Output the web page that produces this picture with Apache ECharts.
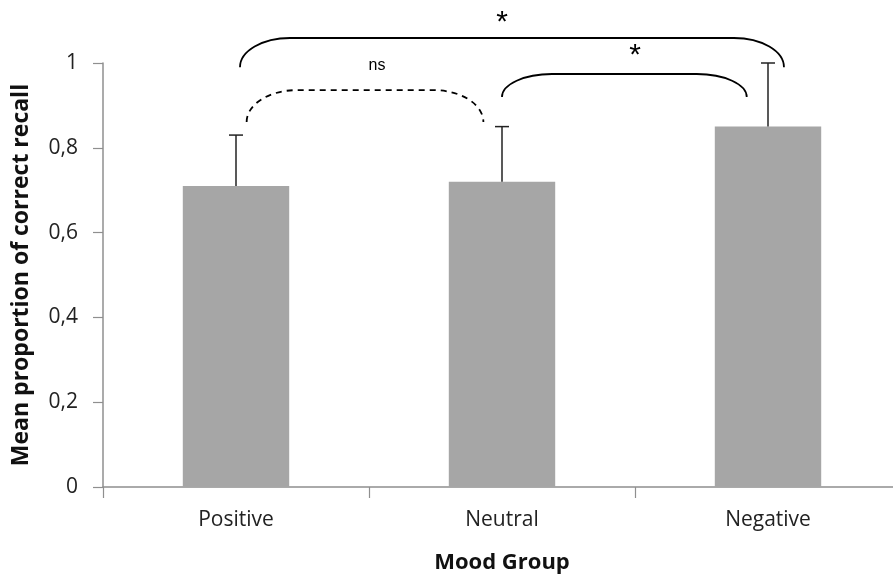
<!DOCTYPE html>
<html>
<head>
<meta charset="utf-8">
<script src="https://cdn.jsdelivr.net/npm/echarts@6/dist/echarts.min.js"></script>
<style>
html,body{margin:0;padding:0;background:#fff;}
#chart{width:893px;height:576px;}
</style>
</head>
<body>
<div id="chart"></div>
<script>
// ---- data ----
var categories = ['Positive', 'Neutral', 'Negative'];
var meanValues = [0.71, 0.72, 0.85];
var errorValues = [0.12, 0.13, 0.15];
var yTickLabels = ['0', '0,2', '0,4', '0,6', '0,8', '1'];
// significance brackets (in category / value units)
var bracketFrom = [0.015, 0.04, 1.0];
var bracketTo = [2.06, 0.93, 1.92];
var bracketEnd = [0.99, 0.861, 0.92];
var bracketTop = [1.059, 0.936, 0.974];
var bracketLabel = ['*', 'ns', '*'];
var bracketLabelX = [1.0, 0.53, 1.5];
var bracketLabelY = [1.114, 0.993, 1.036];
var bracketDashed = [false, true, false];

var chart = echarts.init(document.getElementById('chart'));

function catX(api, c) {
  var i = Math.floor(c);
  if (i > categories.length - 1) i = categories.length - 1;
  var base = api.coord([i, 0])[0];
  var band = api.size([1, 0])[0];
  return base + (c - i) * band;
}

var errData = categories.map(function (c, i) { return [i, meanValues[i], meanValues[i] + errorValues[i]]; });
var bracketData = bracketLabel.map(function (l, i) { return [i]; });

var option = {
  backgroundColor: '#ffffff',
  animation: false,
  grid: { left: 103, top: 63, right: -8, bottom: 89, containLabel: false, outerBoundsMode: 'none' },
  xAxis: {
    type: 'category',
    data: categories,
    name: 'Mood Group',
    nameLocation: 'middle',
    nameGap: 65,
    nameTextStyle: { fontFamily: 'Open Sans', fontWeight: 'bold', fontSize: 22, color: '#111' },
    axisLine: { show: true, lineStyle: { color: '#8f8f8f', width: 1.5 } },
    axisTick: { show: true, alignWithLabel: false, length: 11, lineStyle: { color: '#8f8f8f', width: 1.2 } },
    axisLabel: { margin: 23, fontFamily: 'Open Sans', fontSize: 21, color: '#222' },
    splitLine: { show: false }
  },
  yAxis: {
    type: 'value',
    min: 0, max: 1, interval: 0.2,
    name: 'Mean proportion of correct recall',
    nameLocation: 'middle',
    nameGap: 70,
    nameTextStyle: { fontFamily: 'Open Sans', fontWeight: 'bold', fontSize: 23, color: '#111' },
    axisLine: { show: true, lineStyle: { color: '#8f8f8f', width: 1.5 } },
    axisTick: { show: true, length: 10, lineStyle: { color: '#8f8f8f', width: 1.2 } },
    axisLabel: {
      margin: 25, fontFamily: 'Open Sans', fontSize: 21, color: '#222',
      formatter: function (v) { return yTickLabels[Math.round(v / 0.2)]; }
    },
    splitLine: { show: false }
  },
  series: [
    {
      type: 'bar',
      data: meanValues,
      barWidth: '40%',
      itemStyle: { color: '#a6a6a6' },
      z: 2
    },
    {
      type: 'custom',
      data: errData,
      z: 3,
      renderItem: function (params, api) {
        var x = api.coord([api.value(0), api.value(1)])[0];
        var y0 = api.coord([api.value(0), api.value(1)])[1];
        var y1 = api.coord([api.value(0), api.value(2)])[1];
        var style = { stroke: '#222', lineWidth: 1.5, fill: null };
        return {
          type: 'group',
          children: [
            { type: 'line', shape: { x1: x, y1: y0, x2: x, y2: y1 }, style: style },
            { type: 'line', shape: { x1: x - 7, y1: y1, x2: x + 7, y2: y1 }, style: style }
          ]
        };
      }
    },
    {
      type: 'custom',
      data: bracketData,
      z: 4,
      clip: false,
      renderItem: function (params, api) {
        var k = api.value(0);
        var xa = catX(api, bracketFrom[k]);
        var xb = catX(api, bracketTo[k]);
        var ye = api.coord([0, bracketEnd[k]])[1];
        var yt = api.coord([0, bracketTop[k]])[1];
        var ry = ye - yt;
        var rx = Math.min(50, (xb - xa) / 4);
        var c = 0.5523;
        var d = 'M' + xa + ',' + ye +
          ' C' + xa + ',' + (ye - c * ry) + ' ' + (xa + rx - c * rx) + ',' + yt + ' ' + (xa + rx) + ',' + yt +
          ' L' + (xb - rx) + ',' + yt +
          ' C' + (xb - rx + c * rx) + ',' + yt + ' ' + xb + ',' + (ye - c * ry) + ' ' + xb + ',' + ye;
        var lx = catX(api, bracketLabelX[k]);
        var ly = api.coord([0, bracketLabelY[k]])[1];
        var isStar = bracketLabel[k] === '*';
        return {
          type: 'group',
          children: [
            {
              type: 'path',
              shape: { pathData: d },
              style: { stroke: '#000', lineWidth: 1.8, fill: null, lineDash: bracketDashed[k] ? [6, 5] : null }
            },
            {
              type: 'text',
              x: lx, y: isStar ? ly + 8 : ly,
              style: {
                text: bracketLabel[k],
                fontFamily: 'Liberation Sans',
                fontSize: isStar ? 30 : 16,
                fill: '#000',
                align: 'center',
                verticalAlign: 'middle'
              }
            }
          ]
        };
      }
    }
  ]
};
chart.setOption(option);
</script>
</body>
</html>
